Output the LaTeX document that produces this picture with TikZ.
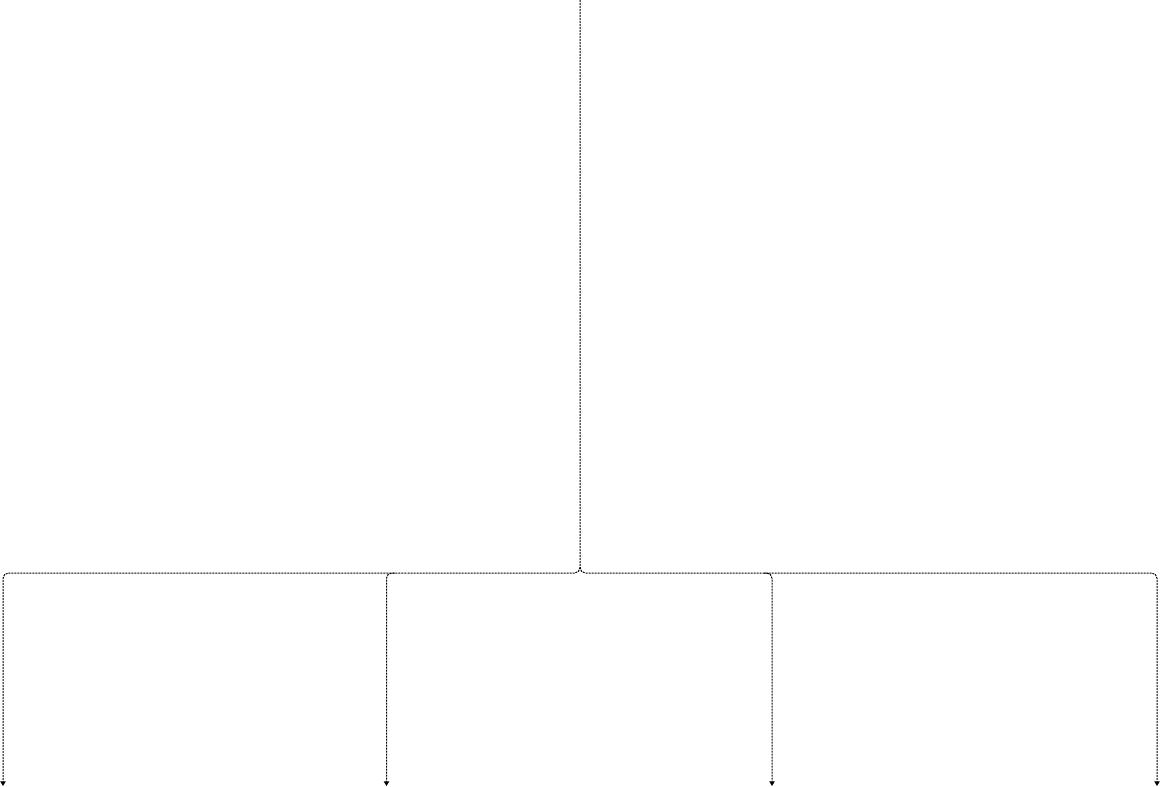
\documentclass[tikz,border=0pt]{standalone}
\usetikzlibrary{arrows.meta, calc}

\begin{document}
\begin{tikzpicture}[
  x=0.75pt, y=-0.75pt,
  link/.style = {line width=0.75pt, dash pattern=on 1.5pt off 0.75pt, rounded corners=4pt, -{Triangle[width=4pt, length=3.5pt]}}
]
  \useasboundingbox (0,0) rectangle (1160,787);

  % source at the top and the split point
  \coordinate (root) at (580,0);
  \coordinate (split) at (580,573);

  % leaves
  \coordinate (leafa) at (3,786);
  \coordinate (leafb) at (386.5,786);
  \coordinate (leafc) at (772,786);
  \coordinate (leafd) at (1157,786);

  % trunk and the outer branches
  \draw[link] (root) |- (leafa |- split) -- (leafa);
  \draw[link] ($(split)+(0,-6)$) |- (leafd |- split) -- (leafd);

  % inner branches
  \draw[link] ($(leafb |- split)+(8,0)$) -| (leafb);
  \draw[link] ($(leafc |- split)+(-8,0)$) -| (leafc);

\end{tikzpicture}
\end{document}
